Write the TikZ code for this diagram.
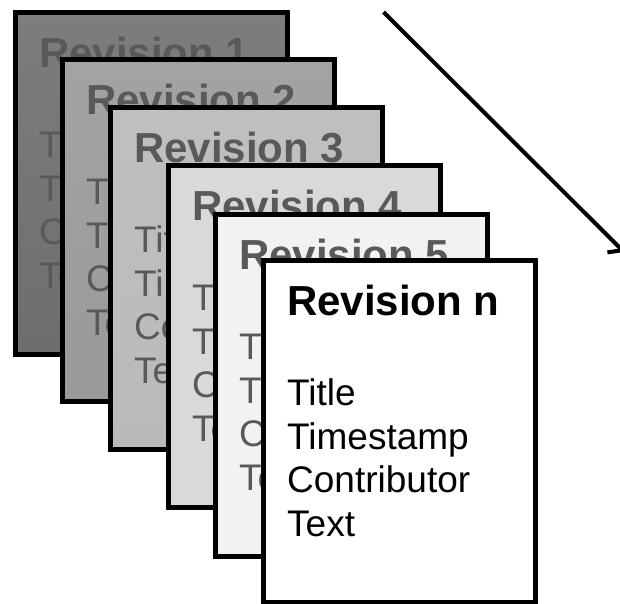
\documentclass[tikz,border=0pt]{standalone}
\usepackage{fontspec}
\setmainfont{Liberation Sans}
\usetikzlibrary{arrows.meta}
\definecolor{oldtext}{HTML}{595959}
\begin{document}
\begin{tikzpicture}[x=1pt,y=-1pt,
  sheet/.style={draw=black, line width=5pt, rectangle, minimum width=272pt, minimum height=342pt, anchor=north west, inner sep=0pt, outer sep=0pt},
  headtxt/.style={anchor=base west, inner sep=0pt, font=\bfseries\fontsize{42}{42}\selectfont},
  bodytxt/.style={anchor=base west, inner sep=0pt, font=\fontsize{37}{37}\selectfont},
  arrowline/.style={line width=4pt, -{Straight Barb[length=9pt,width=24pt,line width=4pt]}}
]
\useasboundingbox (0,0) rectangle (620,603);
\clip (0,0) rectangle (620,603);
% sheets: x, y, top fill, bottom fill, text color, label
\foreach \i/\x/\y/\ct/\cb/\tc/\lab in {
  1/15.5/12.5/{black!51}/{black!57}/oldtext/1,
  2/62.5/59.5/{black!36}/{black!40}/oldtext/2,
  3/110.5/107.5/{black!25}/{black!27}/oldtext/3,
  4/168.5/165.5/{black!15}/{black!15}/oldtext/4,
  5/215.5/214.5/{black!5}/{black!5}/oldtext/5,
  6/263.5/260.5/white/white/black/n}{
  \node[sheet, top color=\ct, bottom color=\cb] (s\i) at (\x,\y) {};
  \node[headtxt, text=\tc] (h\i) at (\x+23.5,\y+54.5) {Revision \lab};
  \node[bodytxt, text=\tc] (ta\i) at (\x+23.5,\y+144.5) {Title};
  \node[bodytxt, text=\tc] (tb\i) at (\x+23.5,\y+188.5) {Timestamp};
  \node[bodytxt, text=\tc] (tc\i) at (\x+23.5,\y+231.5) {Contributor};
  \node[bodytxt, text=\tc] (td\i) at (\x+23.5,\y+275.5) {Text};
}
\coordinate (as) at (383.5,12);
\coordinate (ae) at (624,252);
\draw[arrowline] (as) -- (ae);
\end{tikzpicture}
\end{document}
